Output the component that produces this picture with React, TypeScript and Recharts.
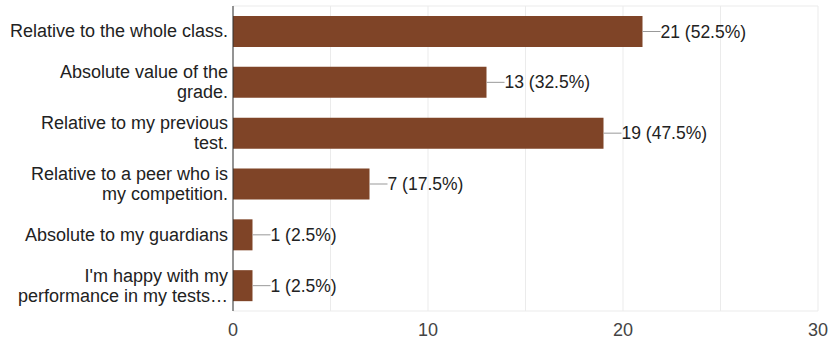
import React from 'react';
import { BarChart, Bar, XAxis, YAxis, CartesianGrid, LabelList } from 'recharts';

// Survey responses (n = 40)
const categories = [
  'Relative to the whole class.',
  'Absolute value of the\ngrade.',
  'Relative to my previous\ntest.',
  'Relative to a peer who is\nmy competition.',
  'Absolute to my guardians',
  "I'm happy with my\nperformance in my tests…",
];
const counts = [21, 13, 19, 7, 1, 1];
const total = 40;
const xTicks = [0, 5, 10, 15, 20, 25, 30];

const data = categories.map((name, i) => ({ name, count: counts[i] }));

const FONT = '"Liberation Sans", Arial, sans-serif';

function CategoryTick(props: any) {
  const { x, y, payload } = props;
  const lines: string[] = String(payload.value).split('\n');
  const lh = 20;
  const startY = y - ((lines.length - 1) * lh) / 2;
  return (
    <text x={x + 3} y={startY} textAnchor="end" fill="#222" fontSize={18} fontFamily={FONT} dominantBaseline="central">
      {lines.map((l, i) => (
        <tspan key={i} x={x + 3} y={startY + i * lh}>
          {l}
        </tspan>
      ))}
    </text>
  );
}

function ValueLabel(props: any) {
  const { x, y, width, height, value } = props;
  const x0 = x + width;
  const cy = y + height / 2;
  const pct = ((value / total) * 100).toFixed(1);
  return (
    <g>
      <line x1={x0} y1={cy} x2={x0 + 18} y2={cy} stroke="#999" strokeWidth={1} />
      <text x={x0 + 18} y={cy} fill="#222" fontSize={17.5} fontFamily={FONT} dominantBaseline="central">
        {`${value} (${pct}%)`}
      </text>
    </g>
  );
}

export default function App() {
  return (
    <div style={{ position: 'absolute', left: 0, top: 0, background: '#fff' }}>
      <BarChart
        width={834}
        height={345}
        data={data}
        layout="vertical"
        margin={{ top: 6, right: 16, bottom: 0, left: 0 }}
      >
        <CartesianGrid stroke="#ebebeb" horizontalPoints={[6, 311]} />
        <XAxis
          type="number"
          domain={[0, 30]}
          ticks={xTicks}
          tickFormatter={(v: number) => (v % 10 === 0 ? String(v) : '')}
          axisLine={false}
          tickLine={false}
          height={34}
          tick={{ fill: '#444', fontSize: 18, fontFamily: FONT }}
          tickMargin={6}
        />
        <YAxis
          type="category"
          dataKey="name"
          width={233}
          axisLine={{ stroke: '#333', strokeWidth: 1 }}
          tickLine={false}
          tick={<CategoryTick />}
          interval={0}
        />
        <Bar dataKey="count" fill="#7f4427" barSize={31} isAnimationActive={false}>
          <LabelList dataKey="count" content={<ValueLabel />} />
        </Bar>
      </BarChart>
    </div>
  );
}
